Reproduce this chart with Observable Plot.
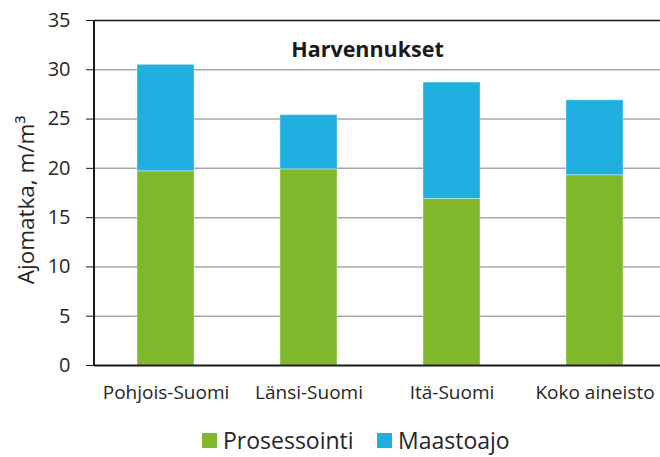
<!DOCTYPE html>
<html><head><meta charset="utf-8">
<script src="https://cdn.jsdelivr.net/npm/d3@7"></script>
<script src="https://cdn.jsdelivr.net/npm/@observablehq/plot@0.6"></script>
<style>
body{margin:0;background:#fff;font-family:"Open Sans",sans-serif;}
#wrap{position:relative;width:660px;height:457px;overflow:hidden;}
#legend{position:absolute;left:0;top:425px;width:660px;height:30px;font-size:23px;color:#262626;}
.li{position:absolute;top:0;display:flex;align-items:center;height:30px;}
.sw{width:15px;height:15px;margin-right:6px;}
</style></head>
<body><div id="wrap"><div id="chart"></div><div id="legend"></div></div>
<script>
const regions = ["Pohjois-Suomi", "Länsi-Suomi", "Itä-Suomi", "Koko aineisto"];
const prosessointi = [19.7, 19.9, 16.9, 19.3];
const maastoajo = [10.8, 5.5, 11.8, 7.6];
const seriesNames = ["Prosessointi", "Maastoajo"];
const seriesColors = ["#7FB82B", "#1FB0E1"];
const yTicks = [0, 5, 10, 15, 20, 25, 30, 35];
const title = "Harvennukset";
const yLabel = "Ajomatka, m/m³";

const data = [];
regions.forEach((r, i) => {
  data.push({region: r, series: seriesNames[0], value: prosessointi[i]});
  data.push({region: r, series: seriesNames[1], value: maastoajo[i]});
});

const chart = Plot.plot({
  width: 660, height: 410,
  marginLeft: 94, marginRight: 0, marginTop: 20, marginBottom: 45,
  style: {fontFamily: "Open Sans, sans-serif", color: "#262626", background: "transparent"},
  x: {domain: regions, range: [94, 667], paddingInner: 0.6, paddingOuter: 0.3, label: null},
  y: {domain: [0, 35], label: null},
  color: {domain: seriesNames, range: seriesColors},
  marks: [
    Plot.ruleY(yTicks.filter(d => d > 0 && d < 35), {stroke: "#a6a6a6", strokeWidth: 1.5}),
    Plot.barY(data, Plot.stackY({x: "region", y: "value", fill: "series", order: seriesNames, stroke: "#ffffff", strokeOpacity: 0.35, strokeWidth: 1})),
    Plot.ruleY([35], {stroke: "#1a1a1a", strokeWidth: 1.5}),
    Plot.ruleY([0], {stroke: "#1a1a1a", strokeWidth: 2}),
    Plot.axisY({ticks: yTicks, tickSize: 8, tickPadding: 16, fontSize: 20, stroke: "#1a1a1a", label: null}),
    Plot.axisX({tickSize: 0, tickPadding: 20, fontSize: 19, label: null}),
    Plot.text([title], {frameAnchor: "top-left", dx: 273, dy: 21, fontSize: 21.5, fontWeight: "bold", textAnchor: "middle", fill: "#1a1a1a"}),
    Plot.text([yLabel], {frameAnchor: "left", dx: -68, dy: 7, rotate: -90, textAnchor: "middle", fontSize: 22.5, fill: "#262626"})
  ]
});
document.getElementById("chart").appendChild(chart);
const svg = d3.select(chart);
svg.append("line").attr("x1", 94).attr("x2", 94).attr("y1", 20).attr("y2", 365).attr("stroke", "#1a1a1a").attr("stroke-width", 2);

const legend = document.getElementById("legend");
const lx = [202, 377];
seriesNames.forEach((s, i) => {
  const d = document.createElement("div");
  d.className = "li"; d.style.left = lx[i] + "px";
  d.innerHTML = `<div class="sw" style="background:${seriesColors[i]}"></div><span>${s}</span>`;
  legend.appendChild(d);
});
</script></body></html>
